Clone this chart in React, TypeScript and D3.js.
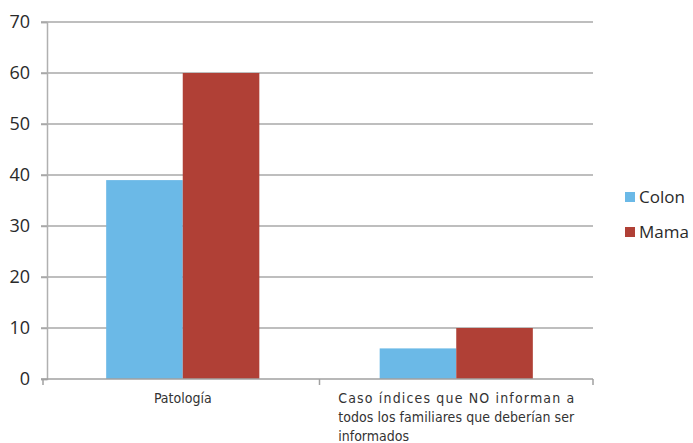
import * as d3 from "d3";
import React, { useEffect, useRef } from "react";

const categories = ["Patología", "Caso índices que NO informan a todos los familiares que deberían ser informados"];
const seriesNames = ["Colon", "Mama"];
const colon = [39, 6];
const mama = [60, 10];
const yTicks = [0, 10, 20, 30, 40, 50, 60, 70];
const colors = ["#6bb9e7", "#b04036"];

// lines of the long label as they break in the original
const labelLines = [
  ["Patología"],
  ["Caso índices que NO informan a", "todos los familiares que deberían ser", "informados"],
];

const App = () => {
  const svgRef = useRef<SVGSVGElement>(null);

  useEffect(() => {
    const w = 693;
    const h = 443;
    const left = 46;
    const right = 593;
    const top = 22;
    const bottom = 379;

    const svg = d3.select(svgRef.current).attr("width", w).attr("height", h);
    svg.selectAll("*").remove();

    const x = d3.scaleBand<string>().domain(categories).range([left, right]).paddingInner(0).paddingOuter(0);
    const y = d3.scaleLinear().domain([0, 70]).range([bottom, top]);
    const groupW = x.bandwidth() * 0.56;
    const xs = d3.scaleBand<string>().domain(seriesNames).range([0, groupW]);

    // grid
    svg.append("g")
      .selectAll("line")
      .data(yTicks.filter(d => d > 0))
      .enter()
      .append("line")
      .attr("x1", left - 5)
      .attr("x2", right)
      .attr("y1", d => y(d))
      .attr("y2", d => y(d))
      .attr("stroke", "#a8a8a8")
      .attr("stroke-width", 1.5);

    // y axis
    const yAxis = d3.axisLeft(y).tickValues(yTicks).tickSize(6).tickPadding(11);
    const gy = svg.append("g").attr("transform", `translate(${left + 1},0)`).call(yAxis);
    gy.select(".domain").attr("stroke", "#b0b0b0").attr("stroke-width", 1.5);
    gy.selectAll(".tick line").attr("stroke", "#a8a8a8").attr("stroke-width", 1.5);
    gy.selectAll(".tick text")
      .attr("font-family", "'Open Sans', 'Liberation Sans', sans-serif")
      .attr("font-size", 18)
      .attr("fill", "#2a2a2a");

    // bars
    const data = categories.map((c, i) => ({ cat: c, values: [colon[i], mama[i]] }));
    const groups = svg.append("g")
      .selectAll("g")
      .data(data)
      .enter()
      .append("g")
      .attr("transform", d => `translate(${x(d.cat)! + (x.bandwidth() - groupW) / 2},0)`);
    groups.selectAll("rect")
      .data(d => d.values.map((v, j) => ({ name: seriesNames[j], v, j })))
      .enter()
      .append("rect")
      .attr("x", d => xs(d.name)!)
      .attr("y", d => y(d.v))
      .attr("width", xs.bandwidth())
      .attr("height", d => y(0) - y(d.v))
      .attr("fill", d => colors[d.j]);

    // x axis
    const gx = svg.append("g").attr("transform", `translate(0,${bottom})`);
    gx.append("line").attr("x1", left - 5).attr("x2", right).attr("stroke", "#a0a0a0").attr("stroke-width", 1.5);
    gx.selectAll("line.tk")
      .data([left - 3, left + x.bandwidth(), right])
      .enter()
      .append("line")
      .attr("class", "tk")
      .attr("x1", d => d)
      .attr("x2", d => d)
      .attr("y1", 0)
      .attr("y2", 6)
      .attr("stroke", "#a0a0a0")
      .attr("stroke-width", 1.5);

    // category labels
    const font = "'Liberation Sans Narrow', 'DejaVu Sans Condensed', 'Open Sans', sans-serif";
    labelLines.forEach((lines, i) => {
      const cx = x(categories[i])! + x.bandwidth() / 2;
      if (lines.length === 1) {
        svg.append("text")
          .attr("x", cx)
          .attr("y", 403)
          .attr("text-anchor", "middle")
          .attr("font-family", font)
          .attr("font-size", 14)
          .attr("fill", "#333")
          .text(lines[0]);
      } else {
        const lw = 236;
        const x0 = cx - lw / 2;
        lines.forEach((ln, k) => {
          const t = svg.append("text")
            .attr("x", x0)
            .attr("y", 403 + k * 19)
            .attr("font-family", font)
            .attr("font-size", 14)
            .attr("fill", "#333")
            .text(ln);
          if (k < lines.length - 1) t.attr("textLength", lw).attr("lengthAdjust", "spacing");
        });
      }
    });

    // legend
    const lg = svg.append("g")
      .selectAll("g")
      .data(seriesNames)
      .enter()
      .append("g")
      .attr("transform", (d, i) => `translate(625,${197 + i * 35})`);
    lg.append("rect").attr("x", 0).attr("y", -5).attr("width", 10).attr("height", 10).attr("fill", (d, i) => colors[i]);
    lg.append("text")
      .attr("x", 14)
      .attr("y", 6)
      .attr("font-family", "'Open Sans', 'Liberation Sans', sans-serif")
      .attr("font-size", 17)
      .attr("fill", "#2a2a2a")
      .text(d => d);
  }, []);

  return <svg ref={svgRef} style={{ position: "absolute", left: 0, top: 0 }} />;
};

export default App;
